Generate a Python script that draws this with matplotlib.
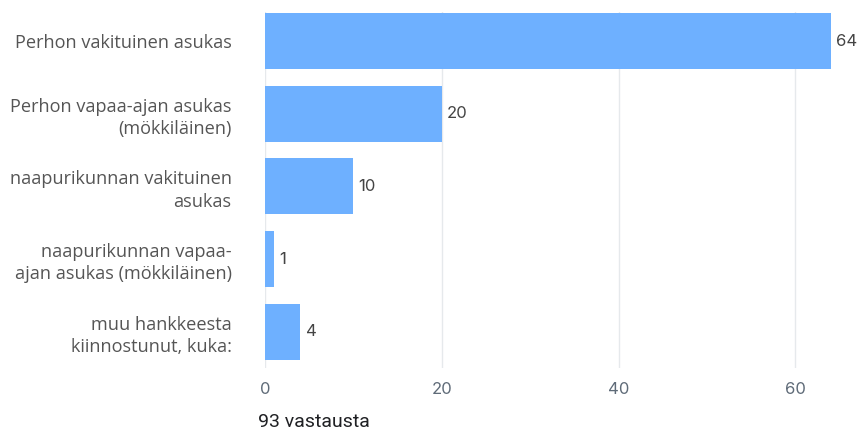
import matplotlib.pyplot as plt

# Vastaukset luokittain
categories = [
    "Perhon vakituinen asukas",
    "Perhon vapaa-ajan asukas\n(mökkiläinen)",
    "naapurikunnan vakituinen\nasukas",
    "naapurikunnan vapaa-\najan asukas (mökkiläinen)",
    "muu hankkeesta\nkiinnostunut, kuka:",
]
counts = [64, 20, 10, 1, 4]
x_ticks = [0, 20, 40, 60]
total_label = "93 vastausta"

bar_color = "#6eb0ff"
text_color = "#5f6b78"

fig = plt.figure(figsize=(8.61, 4.33), dpi=100)
ax = fig.add_axes([0.3078, 0.150, 0.657, 0.822])

y = list(range(len(categories)))
ax.barh(y, counts, height=0.77, color=bar_color, zorder=2)

for yi, v in zip(y, counts):
    ax.text(v + 0.6, yi, str(v), va="center", ha="left",
            fontsize=12, color="#444444", family="Inter")

ax.set_xlim(0, 64)
ax.set_ylim(4.5, -0.4)
ax.set_xticks(x_ticks)
ax.set_xticklabels([str(t) for t in x_ticks], fontsize=12,
                   color=text_color, family="Inter")
ax.set_yticks(y)
ax.set_yticklabels(categories, fontsize=13.1, color="#555555",
                   family="Open Sans", linespacing=1.3)
ax.tick_params(axis="y", length=0, pad=24)
ax.tick_params(axis="x", length=0, pad=10)

ax.grid(axis="x", color="#e6e9ec", linewidth=1, zorder=0)
for s in ax.spines.values():
    s.set_visible(False)

fig.text(258 / 861, 1 - 422 / 433, total_label, fontsize=14,
         color="#202124", family="Roboto", va="center", ha="left")

fig.savefig("out.png", dpi=100)
